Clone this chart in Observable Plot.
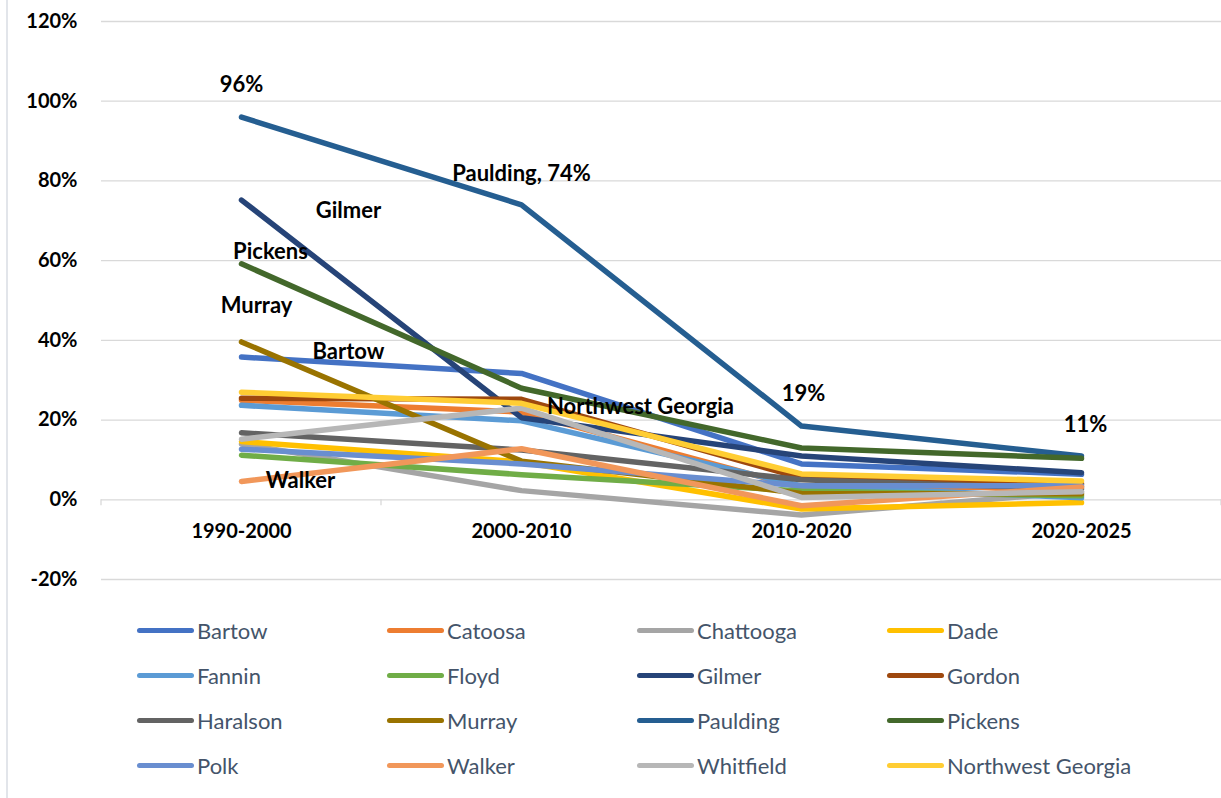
<!DOCTYPE html>
<html>
<head>
<meta charset="utf-8">
<script src="https://cdn.jsdelivr.net/npm/d3@7"></script>
<script src="https://cdn.jsdelivr.net/npm/@observablehq/plot@0.6"></script>
<style>
  html, body { margin: 0; padding: 0; background: #ffffff; }
  #wrap { position: relative; width: 1221px; height: 798px; overflow: hidden; font-family: Lato, "Open Sans", sans-serif; }
  #border { position: absolute; left: 6px; top: 0; width: 2px; height: 798px; background: #E2E5EA; }
  #chart { position: absolute; left: 0; top: 0; }
  #legend { position: absolute; left: 137px; top: 608px; display: grid; grid-template-columns: repeat(4, 250px); grid-auto-rows: 45px; }
  .item { display: flex; align-items: center; font-size: 22px; color: #44546A; white-space: nowrap; }
  .sw { width: 57px; height: 5px; border-radius: 3px; margin-right: 3px; flex: none; }
</style>
</head>
<body>
<div id="wrap">
  <div id="border"></div>
  <div id="chart"></div>
  <div id="legend"></div>
</div>
<script>
// ---- data ----
const periods = ["1990-2000", "2000-2010", "2010-2020", "2020-2025"];
const counties = ["Bartow", "Catoosa", "Chattooga", "Dade", "Fannin", "Floyd", "Gilmer", "Gordon",
  "Haralson", "Murray", "Paulding", "Pickens", "Polk", "Walker", "Whitfield", "Northwest Georgia"];

const bartow    = [35.8, 31.7, 9.0, 6.4];
const catoosa   = [25.0, 22.0, 3.0, 3.2];
const chattooga = [14.0, 2.3, -3.8, 2.0];
const dade      = [14.6, 9.5, -2.3, -0.7];
const fannin    = [23.7, 19.8, 3.5, 0.5];
const floyd     = [11.2, 6.3, 2.2, 1.0];
const gilmer    = [75.2, 20.6, 11.0, 6.8];
const gordon    = [25.5, 25.2, 5.5, 4.0];
const haralson  = [16.8, 12.5, 5.0, 2.7];
const murray    = [39.6, 9.7, 1.6, 1.5];
const paulding  = [96.0, 74.0, 18.5, 11.0];
const pickens   = [59.2, 28.0, 13.0, 10.4];
const polk      = [12.7, 9.0, 3.5, 3.5];
const walker    = [4.6, 12.8, -1.5, 3.2];
const whitfield = [15.2, 23.0, 0.6, 2.0];
const nwGeorgia = [27.0, 24.2, 6.5, 4.7];

const seriesValues = [bartow, catoosa, chattooga, dade, fannin, floyd, gilmer, gordon,
  haralson, murray, paulding, pickens, polk, walker, whitfield, nwGeorgia];

const yTicks = [-20, 0, 20, 40, 60, 80, 100, 120];

// annotation labels (attached to data points)
const labelSeries  = ["Paulding", "Paulding", "Gilmer", "Pickens", "Murray", "Bartow", "Northwest Georgia", "Walker", "Paulding", "Paulding"];
const labelPeriods = ["1990-2000", "2000-2010", "1990-2000", "1990-2000", "1990-2000", "1990-2000", "2000-2010", "1990-2000", "2010-2020", "2020-2025"];
const labelTexts   = ["96%", "Paulding, 74%", "Gilmer", "Pickens", "Murray", "Bartow", "Northwest Georgia", "Walker", "19%", "11%"];

// ---- styles ----
const colors = ["#4472C4", "#ED7D31", "#A5A5A5", "#FFC000", "#5B9BD5", "#70AD47", "#264478", "#9E480E",
  "#636363", "#997300", "#255E91", "#43682B", "#698ED0", "#F1975A", "#B7B7B7", "#FFCD33"];
const labelOffsets = [[0, -32], [0, -31], [107, 11], [29, -12], [15, -36], [107, -5], [119, 4], [59, 0], [2, -32], [4, -31]];

// ---- build ----
const rows = counties.flatMap((c, i) => periods.map((p, j) => ({county: c, period: p, value: seriesValues[i][j]})));
const labels = labelTexts.map((t, i) => {
  const si = counties.indexOf(labelSeries[i]);
  const pj = periods.indexOf(labelPeriods[i]);
  return {text: t, period: labelPeriods[i], value: seriesValues[si][pj]};
});

const boundaryTicks = (index, scales, values, dimensions) => {
  const xs = periods.map(p => scales.x(p));
  const step = xs[1] - xs[0];
  const bounds = xs.map(x => x - step / 2).concat([xs[xs.length - 1] + step / 2]);
  const y0 = scales.y(0);
  const g = d3.create("svg:g");
  g.selectAll("line").data(bounds).join("line")
    .attr("x1", d => d).attr("x2", d => d)
    .attr("y1", y0).attr("y2", y0 + 6)
    .attr("stroke", "#D9D9D9").attr("stroke-width", 1.3);
  return g.node();
};

const chart = Plot.plot({
  width: 1221,
  height: 605,
  marginLeft: 101,
  marginRight: 0,
  marginTop: 21,
  marginBottom: 26,
  style: {fontFamily: "Lato, 'Open Sans', sans-serif", fontSize: "20px", fontWeight: "bold", color: "#000", background: "transparent", overflow: "visible"},
  x: {type: "point", domain: periods, padding: 0.5, axis: null},
  y: {domain: [-20, 120], ticks: yTicks, tickFormat: d => d + "%", tickSize: 0, tickPadding: 24, label: null},
  color: {domain: counties, range: colors},
  marks: [
    Plot.ruleY(yTicks, {stroke: "#D9D9D9", strokeWidth: 1.3}),
    boundaryTicks,
    Plot.text(periods, {x: d => d, y: periods.map(() => 0), dy: 32, fontSize: 20, fontWeight: "bold", fill: "#000"}),
    Plot.line(rows, {x: "period", y: "value", z: "county", stroke: "county", strokeWidth: 5.5, strokeLinecap: "round", strokeLinejoin: "round"}),
    ...labels.map((l, i) => Plot.text([l], {x: "period", y: "value", text: "text", dx: labelOffsets[i][0], dy: labelOffsets[i][1], fontSize: 22, fontWeight: "bold", fill: "#000"}))
  ]
});
document.getElementById("chart").appendChild(chart);

// ---- legend ----
const legend = d3.select("#legend");
counties.forEach((c, i) => {
  const item = legend.append("div").attr("class", "item");
  item.append("span").attr("class", "sw").style("background", colors[i]);
  item.append("span").text(c);
});
</script>
</body>
</html>
